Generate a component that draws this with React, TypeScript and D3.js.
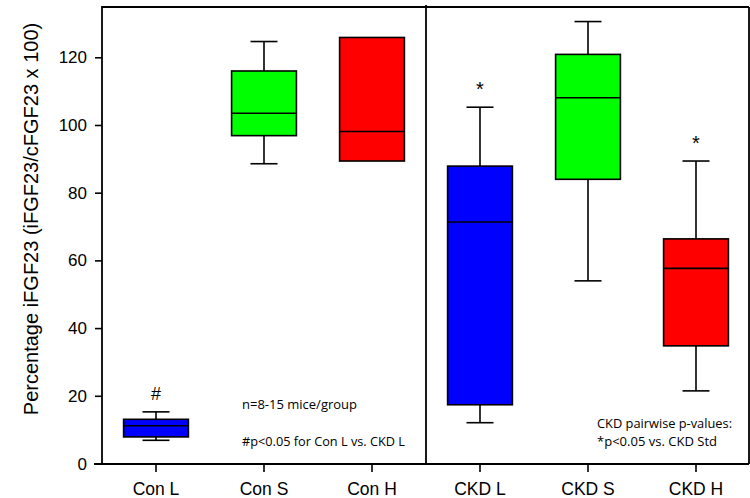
import React from "react";
import * as d3 from "d3";

const categories = ["Con L", "Con S", "Con H", "CKD L", "CKD S", "CKD H"];
const colors = ["#0000ff", "#00ff00", "#ff0000", "#0000ff", "#00ff00", "#ff0000"];
const q1 = [8.0, 97.0, 89.5, 17.5, 84.1, 34.9];
const medians = [11.3, 103.6, 98.2, 71.5, 108.2, 57.8];
const q3 = [13.2, 116.1, 126.0, 88.0, 121.0, 66.5];
const whiskerLow: (number | null)[] = [7.0, 88.7, null, 12.2, 54.1, 21.6];
const whiskerHigh: (number | null)[] = [15.4, 124.8, null, 105.4, 130.7, 89.5];
const marks = ["#", "", "", "*", "", "*"];
const yTicks = [0, 20, 40, 60, 80, 100, 120];

const W = 750, H = 498;
const left = 102, right = 749, top = 7, bottom = 464;

export default function App() {
  const x = d3.scaleBand<string>().domain(categories).range([left, left + 108 * 6]).padding(0);
  const y = d3.scaleLinear().domain([0, 135]).range([bottom, top]);
  const bw = x.bandwidth();
  const boxW = bw * 0.6;
  const capW = bw * 0.25;
  const divX = x("CKD L")!;
  const sans = "Liberation Sans, Arial, sans-serif";
  const note = "Open Sans, Liberation Sans, sans-serif";
  return (
    <svg width={W} height={H} style={{ position: "absolute", left: 0, top: 0, background: "#fff" }}>
      <rect x={0} y={0} width={W} height={H} fill="#fff" />
      {categories.map((c, i) => {
        const cx = x(c)! + bw / 2;
        const wl = whiskerLow[i];
        const wh = whiskerHigh[i];
        const topMark = wh != null ? wh : q3[i];
        return (
          <g key={c}>
            {wh != null && (
              <g stroke="#000" strokeWidth={1.6}>
                <line x1={cx} x2={cx} y1={y(q3[i])} y2={y(wh)} />
                <line x1={cx - capW / 2} x2={cx + capW / 2} y1={y(wh)} y2={y(wh)} />
              </g>
            )}
            {wl != null && (
              <g stroke="#000" strokeWidth={1.6}>
                <line x1={cx} x2={cx} y1={y(q1[i])} y2={y(wl)} />
                <line x1={cx - capW / 2} x2={cx + capW / 2} y1={y(wl)} y2={y(wl)} />
              </g>
            )}
            <rect x={cx - boxW / 2} y={y(q3[i])} width={boxW} height={y(q1[i]) - y(q3[i])}
              fill={colors[i]} stroke="#000" strokeWidth={1.6} />
            <line x1={cx - boxW / 2} x2={cx + boxW / 2} y1={y(medians[i])} y2={y(medians[i])}
              stroke="#000" strokeWidth={1.6} />
            {marks[i] && (
              <text x={cx} y={y(topMark) - 18} textAnchor="middle" dominantBaseline="central"
                fontFamily={sans} fontSize={marks[i] === "#" ? 18 : 20} fill="#000">{marks[i]}</text>
            )}
          </g>
        );
      })}
      {/* frame */}
      <g stroke="#000" strokeWidth={1.8} fill="none">
        <line x1={left} x2={right} y1={top} y2={top} />
        <line x1={right} x2={right} y1={top} y2={bottom} />
        <line x1={left} x2={left} y1={top - 1} y2={bottom} />
        <line x1={divX} x2={divX} y1={top - 2} y2={bottom} />
        <line x1={left - 8} x2={right} y1={bottom} y2={bottom} />
      </g>
      {yTicks.map((t) => (
        <g key={t}>
          <line x1={left - 7} x2={left} y1={y(t)} y2={y(t)} stroke="#000" strokeWidth={1.6} />
          <text x={left - 15} y={y(t)} textAnchor="end" dominantBaseline="central"
            fontFamily={sans} fontSize={17} fill="#000">{t}</text>
        </g>
      ))}
      {categories.map((c) => (
        <g key={c}>
          <line x1={x(c)! + bw / 2} x2={x(c)! + bw / 2} y1={bottom} y2={bottom + 8} stroke="#000" strokeWidth={1.6} />
          <text x={x(c)! + bw / 2} y={495} textAnchor="middle" fontFamily={sans} fontSize={17.5} fill="#000">{c}</text>
        </g>
      ))}
      <text transform={`translate(31,219) rotate(-90)`} textAnchor="middle"
        dominantBaseline="central" fontFamily={sans} fontSize={20} fill="#000">
        Percentage iFGF23 (iFGF23/cFGF23 x 100)
      </text>
      <g fontFamily={note} fontSize={13} fill="#000">
        <text x={242} y={404} dominantBaseline="central" textLength={115} lengthAdjust="spacingAndGlyphs">n=8-15 mice/group</text>
        <text x={242} y={441} dominantBaseline="central" textLength={163} lengthAdjust="spacingAndGlyphs">#p&lt;0.05 for Con L vs. CKD L</text>
        <text x={597} y={423} dominantBaseline="central" textLength={135} lengthAdjust="spacingAndGlyphs">CKD pairwise p-values:</text>
        <text x={597} y={441} dominantBaseline="central" textLength={120} lengthAdjust="spacingAndGlyphs">*p&lt;0.05 vs. CKD Std</text>
      </g>
    </svg>
  );
}
